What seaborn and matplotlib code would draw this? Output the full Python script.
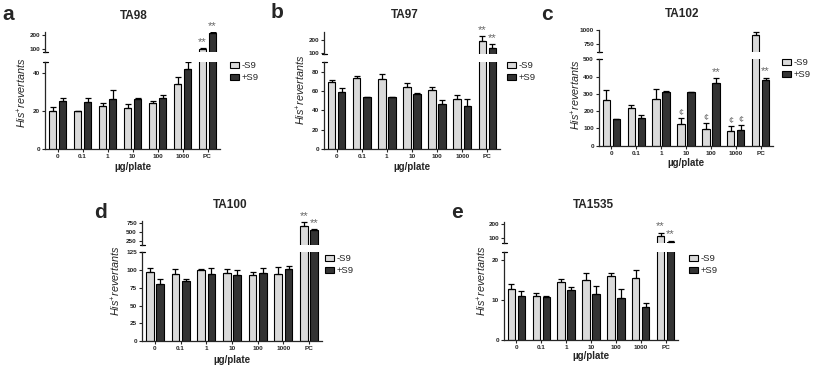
import numpy as np
import pandas as pd
import matplotlib
matplotlib.use('Agg')
import matplotlib.pyplot as plt
import seaborn as sns
from matplotlib.patches import Patch

sns.set_style('ticks')
plt.rcParams['font.family'] = ['Liberation Sans', 'DejaVu Sans']
plt.rcParams['mathtext.fontset'] = 'custom'
plt.rcParams['mathtext.rm'] = 'Liberation Sans'
plt.rcParams['mathtext.it'] = 'Liberation Sans:italic'

doses = ['0', '0.1', '1', '10', '100', '1000', 'PC']
conditions = ['-S9', '+S9']

# TA98
ta98_minus = [20.2, 20.0, 22.8, 21.6, 24.2, 34.2, 95]
ta98_minus_err = [1.9, 0.3, 1.4, 2.3, 1.1, 4.0, 10]
ta98_plus = [25.6, 25.1, 26.5, 26.7, 26.8, 42.1, 215]
ta98_plus_err = [1.6, 2.1, 4.7, 0.3, 1.8, 3.9, 4]
ta98_marks = [('PC', '-S9', '**'), ('PC', '+S9', '**')]

# TA97
ta97_minus = [69.0, 73.4, 72.4, 64.1, 60.7, 52.1, 195]
ta97_minus_err = [2.0, 1.8, 5.5, 4.2, 3.4, 4.1, 37]
ta97_plus = [58.6, 53.4, 53.4, 56.9, 46.9, 44.8, 137]
ta97_plus_err = [4.2, 0.7, 0.6, 1.0, 3.4, 6.9, 30]
ta97_marks = [('PC', '-S9', '**'), ('PC', '+S9', '**')]

# TA102
ta102_minus = [267, 219, 273, 125, 98, 87, 905]
ta102_minus_err = [54, 18, 54, 37, 31, 28, 53]
ta102_plus = [152, 160, 312, 310, 360, 90, 381]
ta102_plus_err = [4, 15, 7, 2, 30, 31, 13]
ta102_marks = [('10', '-S9', '¢'), ('100', '-S9', '¢'), ('100', '+S9', '**'),
               ('1000', '-S9', '¢'), ('1000', '+S9', '¢'), ('PC', '+S9', '**')]

# TA100
ta100_minus = [96.7, 94.8, 99.5, 95.8, 92.5, 94.8, 675]
ta100_minus_err = [6.1, 7.1, 2.4, 6.1, 4.2, 9.5, 110]
ta100_plus = [80, 85, 93.9, 93.4, 95.3, 101.9, 555]
ta100_plus_err = [8, 2.7, 8.5, 6.1, 7.1, 4.1, 40]
ta100_marks = [('PC', '-S9', '**'), ('PC', '+S9', '**')]

# TA1535
ta1535_minus = [12.7, 11.0, 14.4, 15.1, 16.1, 15.4, 115]
ta1535_minus_err = [1.2, 0.6, 0.9, 1.6, 0.6, 2.1, 22]
ta1535_plus = [11.0, 10.8, 12.5, 11.5, 10.4, 8.1, 71]
ta1535_plus_err = [1.3, 0.2, 0.8, 2.0, 2.4, 1.2, 7]
ta1535_marks = [('PC', '-S9', '**'), ('PC', '+S9', '**')]

palette = {'-S9': '#dadada', '+S9': '#333333'}

W, H = 813, 367
fig = plt.figure(figsize=(W / 100, H / 100), dpi=100)


def fx(x):
    return x / W


def fy(y):
    return 1 - y / H


def draw_panel(letter, title, minus, minus_err, plus, plus_err, marks, lay):
    df = pd.DataFrame({
        'dose': doses * 2,
        'cond': ['-S9'] * len(doses) + ['+S9'] * len(doses),
        'value': minus + plus,
        'err': minus_err + plus_err,
    })
    left, right, lo_b, lo_t, up_b, up_t = lay['box']
    ax_lo = fig.add_axes([fx(left), fy(lo_b), (right - left) / W, (lo_b - lo_t) / H])
    ax_up = fig.add_axes([fx(left), fy(up_b), (right - left) / W, (up_b - up_t) / H])

    # upper segment only shows the bars that reach into it
    df_up = df.copy()
    hidden = df_up['value'] + df_up['err'] <= lay['up'][0]
    df_up.loc[hidden, ['value', 'err']] = np.nan

    for ax, data, lim, ticks in ((ax_lo, df, lay['low'], lay['low_ticks']),
                                 (ax_up, df_up, lay['up'], lay['up_ticks'])):
        sns.barplot(data=data, x='dose', y='value', hue='cond', order=doses,
                    hue_order=conditions, palette=palette, width=0.8, gap=0.25,
                    edgecolor='black', linewidth=0.8, errorbar=None,
                    legend=False, ax=ax, zorder=2)
        xs = np.array([doses.index(d) + (-0.2 if c == '-S9' else 0.2)
                       for d, c in zip(data['dose'], data['cond'])])
        ok = data['value'].notna().values
        ax.errorbar(xs[ok], data['value'][ok],
                    yerr=[np.zeros(ok.sum()), data['err'][ok]],
                    fmt='none', ecolor='black', elinewidth=0.9, capsize=2.2,
                    capthick=0.9, zorder=3)
        ax.set_xlim(-0.5, len(doses) - 0.5)
        ax.set_ylim(*lim)
        ax.set_yticks(ticks)
        ax.set_xlabel('')
        ax.set_ylabel('')
        ax.tick_params(axis='both', labelsize=4.6, length=2.5, width=0.8, pad=1.2)
        plt.setp(ax.get_yticklabels(), fontweight='bold')
        for s in ('top', 'right'):
            ax.spines[s].set_visible(False)
        ax.spines['left'].set_linewidth(0.9)
        ax.spines['bottom'].set_linewidth(0.9)
        ax.patch.set_alpha(0)

    plt.setp(ax_lo.get_xticklabels(), fontweight='bold')
    ax_up.spines['bottom'].set_visible(False)
    ax_up.tick_params(axis='x', bottom=False, labelbottom=False)

    # break caps on the y axis
    d = 2.5 / (right - left)
    ax_lo.plot([-d, d], [1, 1], transform=ax_lo.transAxes, color='black',
               lw=0.9, clip_on=False)
    ax_up.plot([-d, d], [0, 0], transform=ax_up.transAxes, color='black',
               lw=0.9, clip_on=False)

    lo_top = lay['low'][1]
    for dose, cond, sym in marks:
        row = df[(df['dose'] == dose) & (df['cond'] == cond)].iloc[0]
        x = doses.index(dose) + (-0.2 if cond == '-S9' else 0.2)
        top = row['value'] + row['err']
        ax = ax_lo if top <= lo_top else ax_up
        size = 8 if sym == '**' else 6.5
        ax.annotate(sym, xy=(x, top), xytext=(0, 0.8), textcoords='offset points',
                    ha='center', va='bottom', fontsize=size, color='#666666',
                    annotation_clip=False)

    fig.text(fx(lay['title'][0]), fy(lay['title'][1]), title, ha='center',
             va='center', fontsize=8.5, fontweight='bold')
    fig.text(fx(lay['letter'][0]), fy(lay['letter'][1]), letter, ha='center',
             va='center', fontsize=15, fontweight='bold')
    fig.text(fx((left + right) / 2), fy(lay['xlab']), 'µg/plate', ha='center',
             va='center', fontsize=7, fontweight='bold')
    fig.text(fx(lay['ylab'][0]), fy(lay['ylab'][1]), r'His$^{+}$revertants',
             ha='center', va='center', rotation=90, fontsize=7.8, fontstyle='italic')

    handles = [Patch(facecolor=palette[c], edgecolor='black', linewidth=0.8)
               for c in conditions]
    ax_lo.legend(handles, conditions, loc='upper left',
                 bbox_to_anchor=(fx(lay['legend'][0]), fy(lay['legend'][1])),
                 bbox_transform=fig.transFigure, frameon=False, fontsize=6.8,
                 handlelength=1.0, handleheight=0.65, handletextpad=0.2,
                 labelspacing=0.35, borderaxespad=0, borderpad=0)


draw_panel('a', 'TA98', ta98_minus, ta98_minus_err, ta98_plus, ta98_plus_err,
           ta98_marks,
           dict(box=(45, 220, 149, 62, 52, 32), low=(0, 46), low_ticks=[0, 20, 40],
                up=(75, 220), up_ticks=[100, 200], title=(134, 16), letter=(8, 14),
                xlab=167, ylab=(22, 93), legend=(230, 61)))
draw_panel('b', 'TA97', ta97_minus, ta97_minus_err, ta97_plus, ta97_plus_err,
           ta97_marks,
           dict(box=(324, 500, 149, 62, 54, 32), low=(0, 90),
                low_ticks=[0, 20, 40, 60, 80], up=(95, 260), up_ticks=[100, 200],
                title=(405, 15), letter=(277, 12), xlab=167, ylab=(301, 90),
                legend=(507, 61)))
draw_panel('c', 'TA102', ta102_minus, ta102_minus_err, ta102_plus, ta102_plus_err,
           ta102_marks,
           dict(box=(599, 773, 145.7, 59.3, 52, 30), low=(0, 500),
                low_ticks=[0, 100, 200, 300, 400, 500], up=(610, 1000),
                up_ticks=[750, 1000], title=(682, 14), letter=(547, 15), xlab=163,
                ylab=(576, 95), legend=(782, 58)))
draw_panel('d', 'TA100', ta100_minus, ta100_minus_err, ta100_plus, ta100_plus_err,
           ta100_marks,
           dict(box=(142, 322, 341, 252.3, 245, 220.7), low=(0, 125),
                low_ticks=[0, 25, 50, 75, 100, 125], up=(126, 830),
                up_ticks=[250, 500, 750], title=(230, 205), letter=(100, 212),
                xlab=360, ylab=(116, 281), legend=(325, 254)))
draw_panel('e', 'TA1535', ta1535_minus, ta1535_minus_err, ta1535_plus,
           ta1535_plus_err, ta1535_marks,
           dict(box=(504, 678, 339.7, 252, 243.3, 221.7), low=(0, 22),
                low_ticks=[0, 10, 20], up=(58, 217), up_ticks=[100, 200],
                title=(593, 205), letter=(457, 213), xlab=356, ylab=(482, 281),
                legend=(689, 254)))

fig.savefig('out.png', dpi=100)
